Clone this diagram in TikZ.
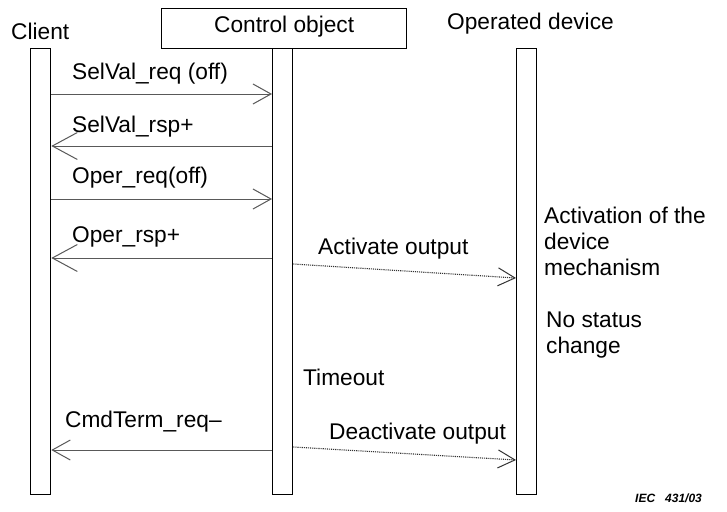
\documentclass[tikz,border=0pt]{standalone}
\usepackage{fontspec}
\setmainfont{Liberation Sans}
\usetikzlibrary{arrows.meta}
\begin{document}
\begin{tikzpicture}[x=1pt,y=-1pt,
  lbl/.style={font=\fontsize{22.7}{26}\selectfont, inner sep=0pt, anchor=base west},
  lifebar/.style={draw=black, line width=1.3pt, fill=white, minimum width=20pt, minimum height=446pt, inner sep=0pt, anchor=north west},
  msg/.style={draw=black!65, line width=1pt},
  tipS/.style={-{Straight Barb[length=18pt,width=20pt]}},
  tipL/.style={-{Straight Barb[length=25pt,width=27pt]}},
  act/.style={draw=black!80, line width=1.1pt, densely dotted, -{Straight Barb[length=17pt,width=18pt,line width=1pt, sep=0pt]}}
]
\useasboundingbox (0,0) rectangle (727,511);
\fill[white] (0,0) rectangle (727,511);

% lifelines
\node[lifebar] (cl) at (30,48) {};
\node[lifebar] (co) at (272,48) {};
\node[lifebar] (od) at (516,48) {};

% header box
\node[draw=black, line width=1.3pt, minimum width=245pt, minimum height=40pt, inner sep=0pt, anchor=north west] (cob) at (161,8) {};
\node[lbl, anchor=base] (cobt) at (cob.center |- 0,33) {Control object};
\node[lbl] (clt) at (11,40) {Client};
\node[lbl] (odt) at (447,30) {Operated device};

% messages
\draw[msg,tipS] (cl.east |- 0,94) -- (co.west |- 0,94);
\node[lbl] (m1) at (72,79) {SelVal\_req (off)};

\draw[msg,tipL] (co.west |- 0,146) -- (cl.east |- 0,146);
\node[lbl] (m2) at (72,132) {SelVal\_rsp+};

\draw[msg,tipS] (cl.east |- 0,199) -- (co.west |- 0,199);
\node[lbl] (m3) at (72,183) {Oper\_req(off)};

\draw[msg,tipL] (co.west |- 0,258) -- (cl.east |- 0,258);
\node[lbl] (m4) at (72,242) {Oper\_rsp+};

\draw[act] (co.east |- 0,264) -- (od.west |- 0,278);
\node[lbl] (m5) at (318,254) {Activate output};

\node[lbl] (to) at (303,385) {Timeout};

\draw[msg,tipS] (co.west |- 0,450) -- (cl.east |- 0,450);
\node[lbl] (m6) at (65,427) {CmdTerm\_req\textendash};

\draw[act] (co.east |- 0,447) -- (od.west |- 0,460);
\node[lbl] (m7) at (329,439) {Deactivate output};

% notes
\node[lbl] (n1) at (544,223) {Activation of the};
\node[lbl] (n2) at (544,249) {device};
\node[lbl] (n3) at (544,275) {mechanism};
\node[lbl] (n4) at (546,327) {No status};
\node[lbl] (n5) at (546,353) {change};

\node[font=\fontsize{12}{14}\selectfont\bfseries\itshape, inner sep=0pt, anchor=base west] (iec) at (635,502) {IEC\hspace{10pt}431/03};
\end{tikzpicture}
\end{document}
